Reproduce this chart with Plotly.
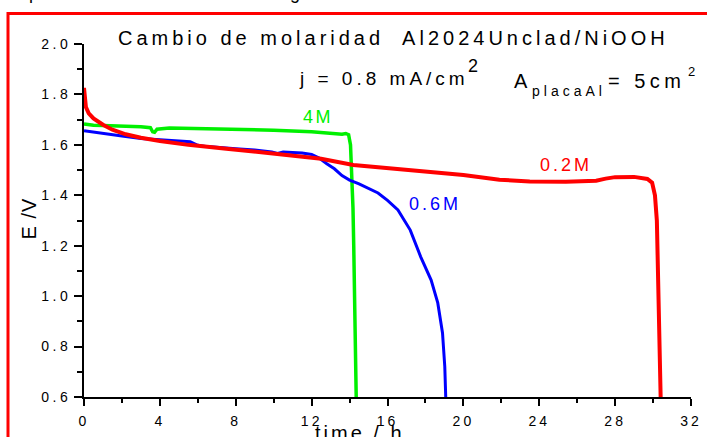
import plotly.graph_objects as go

# ---------------- data ----------------
t_4M = [0, 0.5, 1, 2, 3, 3.5, 3.62, 3.72, 3.85, 4.5, 6, 8, 10, 12, 13, 13.6, 13.8, 13.95,
        14.05, 14.12, 14.18, 14.22, 14.26, 14.3, 14.35]
E_4M = [1.683, 1.678, 1.677, 1.675, 1.672, 1.668, 1.652, 1.650, 1.662, 1.667, 1.665, 1.662,
        1.658, 1.652, 1.645, 1.642, 1.645, 1.640, 1.60, 1.50, 1.35, 1.20, 1.00, 0.80, 0.60]

t_06M = [0, 0.5, 1, 2, 3, 4, 5, 5.6, 6.0, 6.5, 8, 9, 9.9, 10.2, 10.5, 11.5, 12.0, 12.4,
         12.8, 13.2, 13.6, 14.0, 14.5, 15.0, 15.5, 16.0, 16.55, 17.2, 17.75, 18.3, 18.65,
         18.9, 19.02, 19.07]
E_06M = [1.656, 1.650, 1.645, 1.635, 1.625, 1.620, 1.615, 1.612, 1.598, 1.593, 1.585, 1.580,
         1.572, 1.566, 1.572, 1.568, 1.562, 1.548, 1.525, 1.505, 1.478, 1.460, 1.445, 1.428,
         1.409, 1.380, 1.342, 1.262, 1.156, 1.064, 0.973, 0.854, 0.72, 0.60]

t_02M = [0, 0.03, 0.1, 0.25, 0.5, 1.0, 1.5, 2.2, 3, 4, 5.5, 7.5, 9, 11, 12.5, 14.2, 16, 18.4,
         20, 21.9, 23.5, 25.4, 27, 27.5, 28, 29, 29.7, 29.95, 30.1, 30.2, 30.25, 30.3, 30.35, 30.4]
E_02M = [1.826, 1.79, 1.75, 1.725, 1.705, 1.68, 1.66, 1.642, 1.628, 1.615, 1.60, 1.585, 1.573,
         1.556, 1.545, 1.52, 1.508, 1.494, 1.48, 1.462, 1.455, 1.454, 1.458, 1.466, 1.472,
         1.473, 1.465, 1.45, 1.40, 1.30, 1.10, 0.90, 0.75, 0.60]

x_ticks = [0, 4, 8, 12, 16, 20, 24, 28, 32]
x_labels = ["0", "4", "8", "12", "16", "20", "24", "28", "32"]
x_minor = [2, 6, 10, 14, 18, 22, 26, 30]
y_ticks = [0.6, 0.8, 1.0, 1.2, 1.4, 1.6, 1.8, 2.0]
y_labels = ["0.6", "0.8", "1.0", "1.2", "1.4", "1.6", "1.8", "2.0"]
y_minor = [0.7, 0.9, 1.1, 1.3, 1.5, 1.7, 1.9]

title_text = "Cambio de molaridad  Al2024Unclad/NiOOH"
x_title = "time / h"
y_title = "E /V"

# ---------------- layout helpers ----------------
W, H = 707, 437
L, R, T, B = 84, 691, 44, 397
FONT = "Arial, Liberation Sans, sans-serif"


def px(x):
    return (x - L) / (R - L)


def py(y):
    return (B - y) / (B - T)


def sp(text, s):
    return '<span style="letter-spacing:%spx">%s</span>' % (s, text)


fig = go.Figure()
fig.add_trace(go.Scatter(x=t_4M, y=E_4M, mode="lines", line=dict(color="#00F000", width=3.5)))
fig.add_trace(go.Scatter(x=t_06M, y=E_06M, mode="lines", line=dict(color="#0000FF", width=3)))
fig.add_trace(go.Scatter(x=t_02M, y=E_02M, mode="lines", line=dict(color="#FF0000", width=4)))

axis_common = dict(showline=True, linecolor="black", linewidth=2, ticks="outside",
                   tickcolor="black", tickwidth=2, showgrid=False, zeroline=False,
                   automargin=False,
                   tickfont=dict(family=FONT, size=14, color="black"))

fig.update_xaxes(range=[0, 32], tickmode="array", tickvals=x_ticks,
                 ticktext=[sp(s, 3) for s in x_labels], ticklen=7, ticklabelstandoff=3,
                 minor=dict(tickmode="array", tickvals=x_minor, ticklen=4, tickwidth=2,
                            tickcolor="black", ticks="outside"),
                 **axis_common)
fig.update_yaxes(range=[0.6, 2.0], tickmode="array", tickvals=y_ticks,
                 ticktext=[sp(s, 3.5) for s in y_labels], ticklen=8,
                 minor=dict(tickmode="array", tickvals=y_minor, ticklen=5, tickwidth=2,
                            tickcolor="black", ticks="outside"),
                 **axis_common)

ann = []


def add(text, x, y, size, color="black", xanchor="center", yanchor="middle", angle=0):
    ann.append(dict(text=text, x=px(x), y=py(y), xref="paper", yref="paper",
                    xanchor=xanchor, yanchor=yanchor, showarrow=False, textangle=angle,
                    font=dict(family=FONT, size=size, color=color)))


# clipped line at very top
add(sp("partir del estado de carga", 3.2), 27, -7, 18, xanchor="left")
add(sp(title_text, 4), 393, 38, 20)
add(sp("j = 0.8 mA/cm", 4), 297, 78.5, 19, xanchor="left")
add("2", 466, 66, 18, xanchor="left")
add("A", 512, 80.5, 20, xanchor="left")
add(sp("placaAl", 4), 530, 91, 14, xanchor="left")
add(sp("= 5cm", 4.5), 606, 80.5, 20, xanchor="left")
add("2", 686, 71, 13, xanchor="left")
add(sp("4M", 2.5), 318, 116.5, 18, color="#00F000")
add(sp("0.2M", 3), 566, 165, 18, color="#FF0000")
add(sp("0.6M", 3), 435, 203.5, 18, color="#0000FF")
add(sp(y_title, 1), 28, 218.5, 20, angle=-90)
add(sp(x_title, 3), 360, 432.5, 20)

fig.update_layout(
    width=W, height=H, margin=dict(l=L, r=W - R, t=T, b=H - B, pad=0, autoexpand=False),
    paper_bgcolor="white", plot_bgcolor="white", showlegend=False,
    annotations=ann,
    shapes=[dict(type="rect", xref="paper", yref="paper",
                 x0=px(8), x1=px(730), y0=py(13.5), y1=py(460),
                 line=dict(color="#FF0000", width=3), fillcolor="rgba(0,0,0,0)",
                 layer="above")],
)

fig.write_html("out.html")
